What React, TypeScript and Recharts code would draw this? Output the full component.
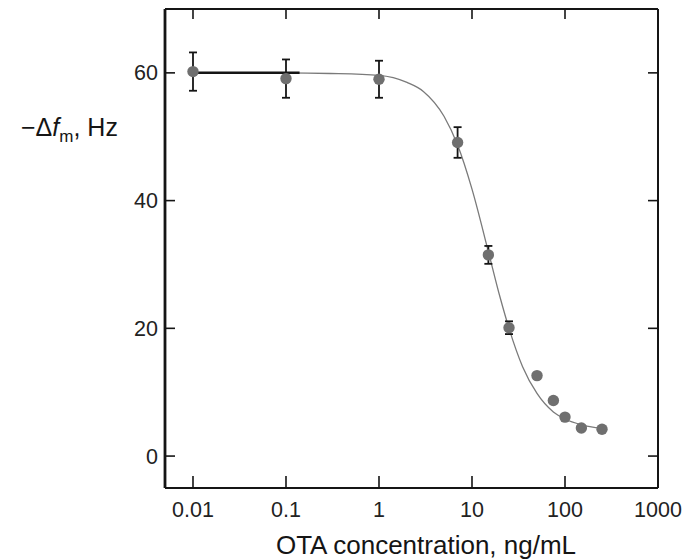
import { ComposedChart, Line, Scatter, ErrorBar, XAxis, YAxis } from 'recharts';

// axis ticks
const xTicks = [0.01, 0.1, 1, 10, 100, 1000];
const yTicks = [0, 20, 40, 60];

// measured points with error bars
const concentrations = [0.01, 0.1, 1, 7, 15, 25];
const responses = [60.2, 59.1, 59.0, 49.1, 31.5, 20.1];
const errors = [3.0, 3.0, 2.9, 2.4, 1.4, 1.0];

// measured points without visible error bars
const lowConcentrations = [50, 75, 100, 150, 250];
const lowResponses = [12.6, 8.7, 6.1, 4.4, 4.2];

// fitted curve
const fitX = [0.01, 0.1, 0.3, 1, 2, 3, 5, 7, 10, 15, 20, 25, 35, 50, 75, 100, 150, 250];
const fitY = [60, 60, 59.9, 59.6, 58.5, 57.1, 53.2, 48.7, 41.8, 32, 24.9, 20, 14, 9.8, 6.9, 5.8, 4.9, 4.35];

// short heavy segment near the plateau
const plateauX = [0.01, 0.14];
const plateauY = [60, 60];

const pointsData = concentrations.map((x, i) => ({ x, y: responses[i], err: errors[i] }));
const lowData = lowConcentrations.map((x, i) => ({ x, y: lowResponses[i] }));
const fitData = fitX.map((x, i) => ({ x, y: fitY[i] }));
const plateauData = plateauX.map((x, i) => ({ x, y: plateauY[i] }));

const FONT = '"Liberation Sans", Arial, Helvetica, sans-serif';
const INK = '#151515';
const DOT = '#6f6f6f';

const dot = (p: any) => <circle cx={p.cx} cy={p.cy} r={5.7} fill={DOT} />;

const axisLine = { stroke: INK, strokeWidth: 2 };
const tickLine = { stroke: INK, strokeWidth: 1.6 };
const tickFont = { fontSize: 21.5, fill: '#222', fontFamily: FONT };

export default function App() {
  return (
    <div style={{ position: 'absolute', left: 0, top: 0, width: 684, height: 560, background: '#fff', fontFamily: FONT }}>
      <ComposedChart width={684} height={560} margin={{ top: 8, right: 25, bottom: 71, left: 164 }}>
        <XAxis
          xAxisId="bottom"
          dataKey="x"
          type="number"
          scale="log"
          domain={[0.005, 1000]}
          allowDataOverflow
          ticks={xTicks}
          height={1}
          tickSize={-12}
          tickMargin={26}
          axisLine={axisLine}
          tickLine={tickLine}
          tick={tickFont}
        />
        <XAxis
          xAxisId="top"
          orientation="top"
          dataKey="x"
          type="number"
          scale="log"
          domain={[0.005, 1000]}
          allowDataOverflow
          ticks={xTicks}
          height={1}
          tickSize={-10}
          tickFormatter={() => ''}
          axisLine={axisLine}
          tickLine={tickLine}
        />
        <YAxis
          yAxisId="left"
          type="number"
          domain={[-5, 70]}
          allowDataOverflow
          ticks={yTicks}
          width={1}
          tickSize={-10}
          tickMargin={17}
          axisLine={{ stroke: INK, strokeWidth: 2.8 }}
          tickLine={tickLine}
          tick={tickFont}
        />
        <YAxis
          yAxisId="right"
          orientation="right"
          type="number"
          domain={[-5, 70]}
          allowDataOverflow
          ticks={yTicks}
          width={1}
          tickSize={-10}
          tickFormatter={() => ''}
          axisLine={axisLine}
          tickLine={tickLine}
        />
        <Line
          xAxisId="bottom"
          yAxisId="left"
          data={fitData}
          dataKey="y"
          type="monotone"
          stroke="#7a7a7a"
          strokeWidth={1.3}
          dot={false}
          activeDot={false}
          isAnimationActive={false}
        />
        <Line
          xAxisId="bottom"
          yAxisId="left"
          data={plateauData}
          dataKey="y"
          type="linear"
          stroke={INK}
          strokeWidth={2.5}
          dot={false}
          activeDot={false}
          isAnimationActive={false}
        />
        <Scatter
          xAxisId="bottom"
          yAxisId="left"
          data={pointsData}
          dataKey="y"
          shape={dot}
          isAnimationActive={false}
        >
          <ErrorBar dataKey="err" direction="y" width={4} stroke={INK} strokeWidth={1.8} />
        </Scatter>
        <Scatter
          xAxisId="bottom"
          yAxisId="left"
          data={lowData}
          dataKey="y"
          shape={dot}
          isAnimationActive={false}
        />
      </ComposedChart>

      <div style={{ position: 'absolute', left: 21, top: 115, fontSize: 25, lineHeight: '25px', color: INK, whiteSpace: 'nowrap' }}>
        <span>−Δ</span>
        <i>f</i>
        <sub style={{ fontSize: 17, verticalAlign: 'baseline', position: 'relative', top: 6 }}>m</sub>
        <span>, Hz</span>
      </div>

      <div style={{ position: 'absolute', left: 226, top: 531, width: 400, textAlign: 'center', fontSize: 26, lineHeight: '28px', color: INK, whiteSpace: 'nowrap' }}>
        OTA concentration, ng/mL
      </div>
    </div>
  );
}
